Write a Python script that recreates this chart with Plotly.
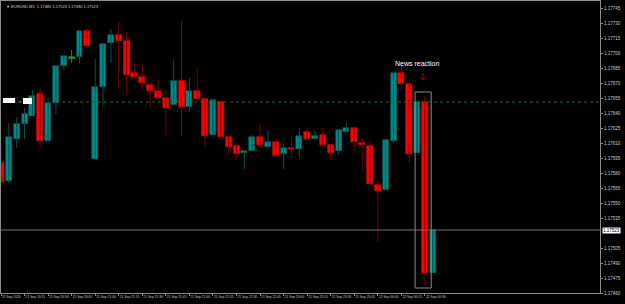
import plotly.graph_objects as go

# ---- data (EURUSD, M5) ----
opens = [1.17590, 1.17572, 1.17614, 1.17629, 1.17637, 1.17659, 1.17612, 1.17650, 1.17687, 1.17695,
         1.17696, 1.17722, 1.17594, 1.17666, 1.17710, 1.17718, 1.17712, 1.17680, 1.17676, 1.17668,
         1.17662, 1.17655, 1.17648, 1.17672, 1.17646, 1.17662, 1.17654, 1.17618, 1.17651, 1.17616,
         1.17607, 1.17600, 1.17602, 1.17616, 1.17606, 1.17611, 1.17599, 1.17605, 1.17604, 1.17621,
         1.17614, 1.17618, 1.17608, 1.17602, 1.17621, 1.17625, 1.17610, 1.17607, 1.17568, 1.17563,
         1.17612, 1.17680, 1.17669, 1.17600, 1.17651, 1.17480]
highs = [1.17610, 1.17630, 1.17636, 1.17645, 1.17663, 1.17665, 1.17656, 1.17687, 1.17697, 1.17703,
         1.17722, 1.17724, 1.17694, 1.17709, 1.17724, 1.17731, 1.17721, 1.17690, 1.17690, 1.17668,
         1.17673, 1.17662, 1.17694, 1.17733, 1.17675, 1.17684, 1.17654, 1.17653, 1.17651, 1.17616,
         1.17610, 1.17602, 1.17618, 1.17630, 1.17623, 1.17614, 1.17610, 1.17617, 1.17625, 1.17626,
         1.17623, 1.17625, 1.17608, 1.17623, 1.17630, 1.17625, 1.17614, 1.17614, 1.17572, 1.17613,
         1.17680, 1.17688, 1.17671, 1.17651, 1.17657, 1.17523]
lows = [1.17568, 1.17570, 1.17605, 1.17614, 1.17637, 1.17604, 1.17612, 1.17639, 1.17683, 1.17690,
        1.17690, 1.17707, 1.17594, 1.17648, 1.17690, 1.17665, 1.17660, 1.17676, 1.17663, 1.17646,
        1.17655, 1.17616, 1.17648, 1.17616, 1.17642, 1.17654, 1.17606, 1.17618, 1.17616, 1.17599,
        1.17595, 1.17584, 1.17602, 1.17605, 1.17606, 1.17597, 1.17584, 1.17596, 1.17595, 1.17614,
        1.17614, 1.17608, 1.17593, 1.17599, 1.17621, 1.17602, 1.17583, 1.17569, 1.17511, 1.17563,
        1.17610, 1.17663, 1.17591, 1.17600, 1.17467, 1.17480]
closes = [1.17571, 1.17616, 1.17629, 1.17639, 1.17657, 1.17612, 1.17650, 1.17687, 1.17697, 1.17695,
          1.17722, 1.17707, 1.17666, 1.17709, 1.17718, 1.17712, 1.17678, 1.17676, 1.17670, 1.17662,
          1.17655, 1.17645, 1.17672, 1.17646, 1.17662, 1.17654, 1.17617, 1.17653, 1.17616, 1.17606,
          1.17599, 1.17602, 1.17616, 1.17608, 1.17611, 1.17597, 1.17605, 1.17604, 1.17617, 1.17614,
          1.17617, 1.17608, 1.17600, 1.17623, 1.17625, 1.17611, 1.17608, 1.17569, 1.17562, 1.17613,
          1.17680, 1.17669, 1.17599, 1.17651, 1.17480, 1.17523]

time_tick_idx = list(range(0, 56, 3))
time_tick_text = ["21 Sep 2020", "21 Sep 20:15", "21 Sep 20:30", "21 Sep 20:45", "21 Sep 21:00",
                  "21 Sep 21:15", "21 Sep 21:30", "21 Sep 21:45", "21 Sep 22:00", "21 Sep 22:15",
                  "21 Sep 22:30", "21 Sep 22:45", "21 Sep 23:00", "21 Sep 23:15", "21 Sep 23:30",
                  "21 Sep 23:45", "22 Sep 00:00", "22 Sep 00:15", "22 Sep 00:30"]
price_ticks = [1.17745, 1.17730, 1.17715, 1.17700, 1.17685, 1.17670, 1.17655, 1.17640, 1.17625,
               1.17610, 1.17595, 1.17580, 1.17565, 1.17550, 1.17535, 1.17505, 1.17490,
               1.17475, 1.17460]
level_price = 1.17651
current_price = closes[-1]

n = len(opens)
idx = list(range(n))

TEAL = "#008B8B"
RED = "#FF0000"
DOJI = "#2f8f2f"
WICK_UP = "#0d4f4f"
WICK_DN = "#7d0000"

fig = go.Figure()

# wicks grouped by colour
groups = {"up": ([], []), "dn": ([], []), "doji": ([], [])}
for i in idx:
    k = "up" if closes[i] > opens[i] else ("dn" if closes[i] < opens[i] else "doji")
    xs, ys = groups[k]
    xs += [i, i, None]
    ys += [lows[i], highs[i], None]
for k, col in (("up", WICK_UP), ("dn", WICK_DN), ("doji", DOJI)):
    xs, ys = groups[k]
    fig.add_trace(go.Scatter(x=xs, y=ys, mode="lines", line=dict(color=col, width=1),
                             hoverinfo="skip", showlegend=False))

# bodies
bases, heights, colors, lcols = [], [], [], []
for i in idx:
    lo, hi = min(opens[i], closes[i]), max(opens[i], closes[i])
    h = max(hi - lo, 0.000012)
    bases.append(lo if hi - lo > 0 else lo - 0.000006)
    heights.append(h)
    if closes[i] > opens[i]:
        colors.append(TEAL); lcols.append("#0a5a5a")
    elif closes[i] < opens[i]:
        colors.append(RED); lcols.append(RED)
    else:
        colors.append(DOJI); lcols.append(DOJI)
fig.add_trace(go.Bar(x=idx, y=heights, base=bases, width=0.76,
                     marker=dict(color=colors, line=dict(color=lcols, width=0.6)),
                     hoverinfo="skip", showlegend=False))

# level lines
fig.add_trace(go.Scatter(x=[7, 80], y=[level_price, level_price], mode="lines",
                         line=dict(color="#1f6a1f", width=1, dash="dot"),
                         hoverinfo="skip", showlegend=False))
fig.add_trace(go.Scatter(x=[-2, 80], y=[current_price, current_price], mode="lines",
                         line=dict(color="#6e6e6e", width=1),
                         hoverinfo="skip", showlegend=False))

shapes = [
    # news rectangle
    dict(type="rect", xref="x", yref="y", x0=52.75, x1=54.8, y0=1.17465, y1=1.17661,
         line=dict(color="#8c8c8c", width=1), fillcolor="rgba(0,0,0,0)"),
    # left labels on the level line
    dict(type="rect", xref="x", yref="y", x0=0.25, x1=1.8, y0=1.17650, y1=1.17655,
         line=dict(width=0), fillcolor="white", layer="above"),
    dict(type="rect", xref="x", yref="y", x0=2.8, x1=3.95, y0=1.17649, y1=1.17655,
         line=dict(width=0), fillcolor="white", layer="above"),
]

annotations = [
    dict(text="News reaction", x=53.0, y=1.17690, xref="x", yref="y", showarrow=False,
         font=dict(color="white", size=7, family="Liberation Sans"), xanchor="center", yanchor="middle"),
    dict(text="⇩", x=53.75, y=1.17676, xref="x", yref="y", showarrow=False,
         font=dict(color="#e00000", size=9, family="DejaVu Sans"), xanchor="center", yanchor="middle"),
    dict(text="- lo", x=2.3, y=1.17652, xref="x", yref="y", showarrow=False,
         font=dict(color="#9a9a9a", size=4, family="Liberation Sans"), xanchor="center", yanchor="middle"),
    dict(text="▼ EURUSD,M5  1.17480 1.17523 1.17480 1.17523", x=0.005, y=0.998, xref="paper",
         yref="paper", showarrow=False, xanchor="left", yanchor="top",
         font=dict(color="#cfcfcf", size=4, family="Liberation Sans")),
    dict(text=f"{current_price:.5f}", x=1.0, y=current_price, xref="paper", yref="y",
         showarrow=False, xanchor="left", yanchor="middle", xshift=2,
         bgcolor="white", borderpad=0,
         font=dict(color="black", size=4.5, family="Liberation Sans")),
]

fig.update_layout(
    width=625, height=304,
    margin=dict(l=1, r=25, t=1, b=11, autoexpand=False),
    paper_bgcolor="black", plot_bgcolor="black",
    barmode="overlay", bargap=0,
    shapes=shapes, annotations=annotations,
    showlegend=False,
    xaxis=dict(range=[0, 76.3], showgrid=False, zeroline=False, automargin=False,
               showline=True, mirror=True, linecolor="#8a8a8a", linewidth=1,
               tickvals=time_tick_idx, ticktext=time_tick_text, tickangle=0,
               ticks="outside", ticklen=2, tickcolor="#8a8a8a",
               ticklabelposition="outside right",
               tickfont=dict(color="#c8c8c8", size=3.3, family="Liberation Sans"),
               fixedrange=True),
    yaxis=dict(range=[1.17460, 1.17752], side="right", showgrid=False, zeroline=False,
               automargin=False,
               showline=True, mirror=True, linecolor="#8a8a8a", linewidth=1,
               tickvals=price_ticks, ticktext=[f"{p:.5f}" for p in price_ticks],
               ticks="outside", ticklen=2, tickcolor="#8a8a8a",
               tickfont=dict(color="#c8c8c8", size=4.5, family="Liberation Sans"),
               fixedrange=True),
)

fig.write_html("out.html", config={"displayModeBar": False})
